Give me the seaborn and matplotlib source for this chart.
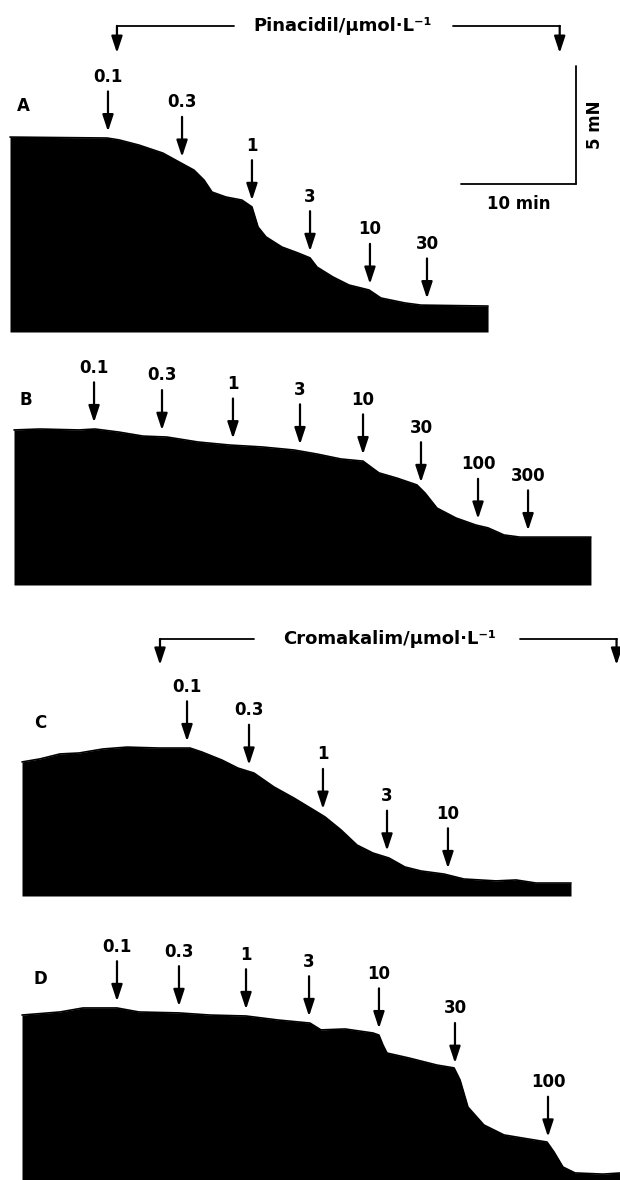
import numpy as np
import matplotlib
matplotlib.use("Agg")
import matplotlib.pyplot as plt
import seaborn as sns

# ---------------- data: time (min) and tension (mN) ----------------
a_time = [0, 8.43, 9.48, 11.22, 13.30, 14.87, 16.00, 16.87, 17.57, 18.78, 20.17, 21.04, 21.57,
          22.26, 23.65, 25.04, 26.09, 26.70, 28.09, 29.48, 31.22, 32.26, 34.35, 35.74, 41.57]
a_tension = [8.26, 8.22, 8.14, 7.92, 7.58, 7.16, 6.86, 6.44, 5.93, 5.72, 5.59, 5.30, 4.45,
             4.03, 3.60, 3.35, 3.14, 2.75, 2.33, 1.99, 1.78, 1.44, 1.23, 1.14, 1.10]
a_dose_labels = ["0.1", "0.3", "1", "3", "10", "30"]
a_dose_times = [8.52, 14.96, 21.04, 26.09, 31.30, 36.26]

b_time = [0, 2.26, 5.65, 7.04, 9.13, 11.22, 13.30, 16.00, 18.78, 21.57, 24.35, 26.35, 28.43,
          30.35, 31.04, 31.74, 33.30, 35.04, 35.74, 36.78, 38.43, 40.17, 41.22, 42.61, 44.00, 50.17]
b_tension = [6.57, 6.61, 6.57, 6.61, 6.48, 6.31, 6.27, 6.06, 5.93, 5.85, 5.72, 5.55, 5.34,
             5.25, 5.00, 4.75, 4.53, 4.24, 3.90, 3.26, 2.84, 2.54, 2.42, 2.12, 2.03, 2.03]
b_dose_labels = ["0.1", "0.3", "1", "3", "10", "30", "100", "300"]
b_dose_times = [6.96, 12.87, 19.04, 24.87, 30.35, 35.39, 40.35, 44.70]

c_time = [0, 1.57, 3.30, 4.96, 7.04, 9.13, 11.91, 14.61, 15.65, 17.39, 18.78, 20.17, 21.91,
          23.65, 25.65, 26.35, 27.74, 29.13, 30.52, 31.91, 33.30, 34.70, 36.70, 38.43, 41.22,
          42.96, 44.70, 47.74]
c_tension = [5.68, 5.81, 6.02, 6.06, 6.23, 6.31, 6.27, 6.27, 6.10, 5.76, 5.42, 5.21, 4.62,
             4.15, 3.56, 3.35, 2.80, 2.16, 1.82, 1.61, 1.23, 1.06, 0.93, 0.72, 0.64,
             0.68, 0.55, 0.55]
c_dose_labels = ["0.1", "0.3", "1", "3", "10"]
c_dose_times = [14.35, 19.74, 26.17, 31.74, 37.04]

d_time = [0, 3.30, 5.30, 8.26, 10.17, 13.65, 16.35, 19.48, 22.26, 25.04, 26.00, 28.09, 30.52,
          31.04, 31.39, 31.74, 33.65, 36.09, 37.57, 38.09, 38.78, 40.17, 41.91, 44.00, 45.65,
          46.26, 47.04, 48.09, 50.52, 52.09]
d_tension = [6.99, 7.12, 7.29, 7.29, 7.12, 7.08, 6.99, 6.95, 6.78, 6.65, 6.36, 6.40, 6.23,
             6.14, 5.72, 5.38, 5.17, 4.87, 4.75, 4.24, 3.09, 2.33, 1.91, 1.74, 1.61,
             1.19, 0.55, 0.30, 0.25, 0.30]
d_dose_labels = ["0.1", "0.3", "1", "3", "10", "30", "100"]
d_dose_times = [8.26, 13.65, 19.48, 24.96, 31.04, 37.65, 45.74]

panel_names = ["A", "B", "C", "D"]
drug_names = ["Pinacidil/\u03bcmol\u00b7L\u207b\u00b9", "Cromakalim/\u03bcmol\u00b7L\u207b\u00b9"]

# ---------------- layout ----------------
W, H = 620, 1180
PX_MIN = 11.5   # pixels per minute
PX_MN = 23.6    # pixels per mN

sns.set_theme(style="white")
plt.rcParams["font.family"] = ["DejaVu Sans"]
plt.rcParams["text.color"] = "black"

fig = plt.figure(figsize=(W / 100, H / 100), dpi=100)
fig.patch.set_facecolor("white")


def panel_axes(x0, yb):
    ax = fig.add_axes([0, 0, 1, 1])
    ax.set_xlim(-x0 / PX_MIN, (W - x0) / PX_MIN)
    ax.set_ylim((yb - H) / PX_MN, yb / PX_MN)
    ax.set_facecolor("none")
    ax.axis("off")
    return ax


FS = 12
ARROW = dict(arrowstyle="-|>,head_length=1.0,head_width=0.33", mutation_scale=10,
             color="black", lw=1.6, shrinkA=0, shrinkB=0)


def draw_trace(ax, t, v, name, name_pos, labels, dtimes):
    t = np.asarray(t, float)
    v = np.asarray(v, float)
    ax.fill_between(t, 0, v, color="black", lw=0)
    sns.lineplot(x=t, y=v, ax=ax, color="black", lw=1.2, estimator=None, sort=False,
                 legend=False)
    ax.text(name_pos[0], name_pos[1], name, ha="center", va="center",
            fontsize=FS, fontweight="bold", color="black")
    for lab, dt in zip(labels, dtimes):
        tip = np.interp(dt, t, v) + 0.28
        tail = tip + 1.7
        ax.annotate("", xy=(dt, tip), xytext=(dt, tail), arrowprops=ARROW)
        ax.text(dt, tail + 0.62, lab, ha="center", va="center",
                fontsize=FS, fontweight="bold", color="black")


def bracket(ax, xl, xr, xt, y_line, y_tip, text, gap_l, gap_r):
    ax.plot([xl, gap_l], [y_line, y_line], color="black", lw=1.3)
    ax.plot([gap_r, xr], [y_line, y_line], color="black", lw=1.3)
    for xx in (xl, xr):
        ax.annotate("", xy=(xx, y_tip), xytext=(xx, y_line), arrowprops=ARROW)
    ax.text(xt, y_line, text, ha="center", va="center", fontsize=13,
            fontweight="bold", color="black")


# Panel A
axA = panel_axes(10, 332)
draw_trace(axA, a_time, a_tension, panel_names[0], (1.13, 9.58), a_dose_labels, a_dose_times)
bracket(axA, 9.3, 47.8, 28.96, 12.97, 11.82, drug_names[0], 19.5, 38.5)
# scale bar: 10 min x 5 mN
axA.plot([39.2, 49.2], [6.27, 6.27], color="black", lw=1.3)
axA.plot([49.2, 49.2], [6.27, 11.27], color="black", lw=1.3)
axA.text(44.2, 5.42, "10 min", ha="center", va="center", fontsize=FS, fontweight="bold",
         color="black")
axA.text(50.9, 8.8, "5 mN", ha="center", va="center", fontsize=FS, fontweight="bold",
         rotation=90, color="black")

# Panel B
axB = panel_axes(14, 585)
draw_trace(axB, b_time, b_tension, panel_names[1], (1.04, 7.84), b_dose_labels, b_dose_times)

# Panel C
axC = panel_axes(22, 896)
draw_trace(axC, c_time, c_tension, panel_names[2], (1.57, 7.33), c_dose_labels, c_dose_times)
bracket(axC, 12.0, 51.7, 32.0, 10.89, 9.79, drug_names[1], 20.2, 43.3)

# Panel D
axD = panel_axes(22, 1180)
draw_trace(axD, d_time, d_tension, panel_names[3], (1.57, 8.52), d_dose_labels, d_dose_times)

fig.savefig("out.png", dpi=100, facecolor="white")
